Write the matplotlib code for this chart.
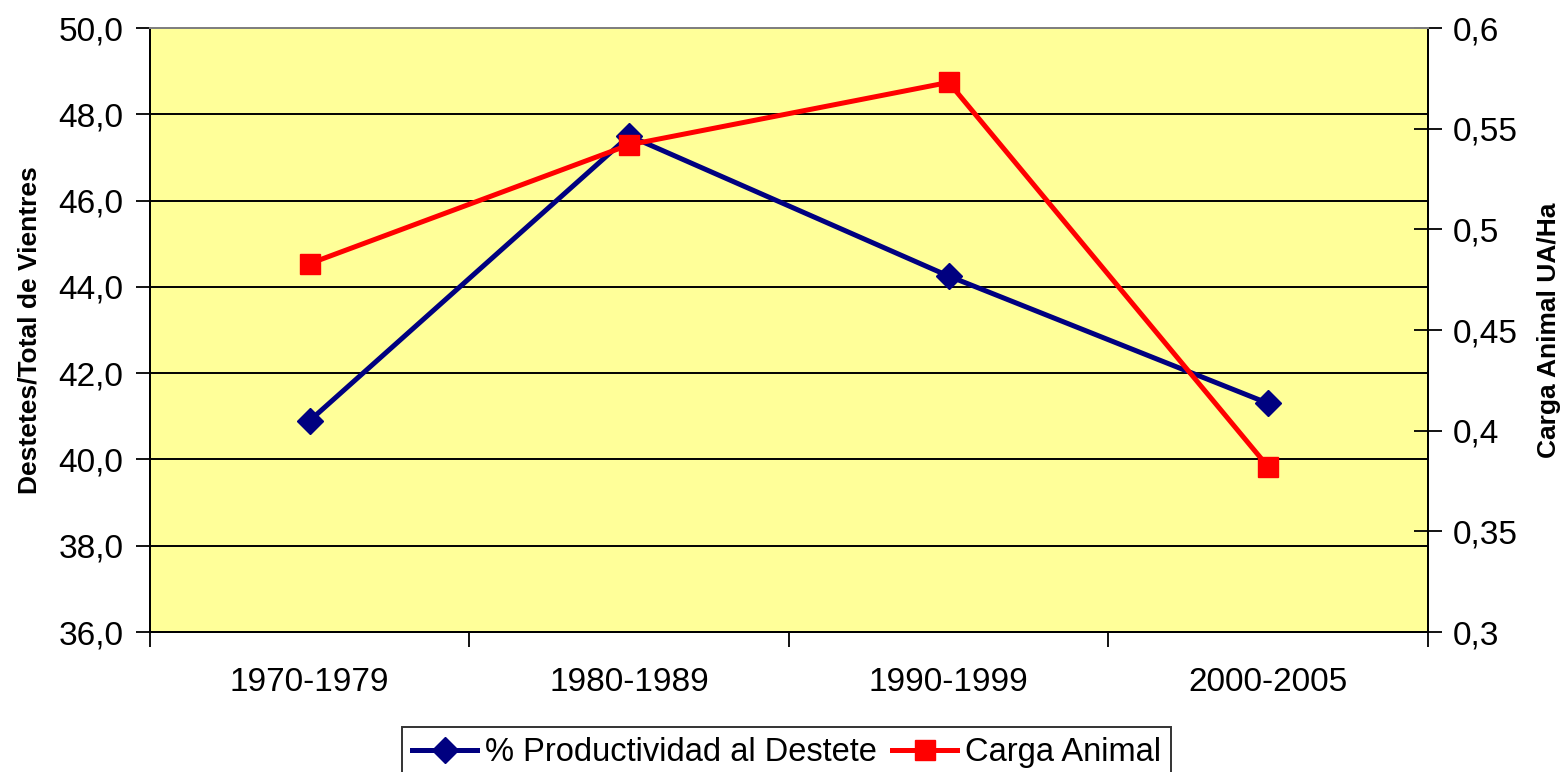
import matplotlib

matplotlib.use("Agg")
import matplotlib.pyplot as plt
from matplotlib.ticker import FixedLocator, FuncFormatter

plt.rcParams["font.family"] = ["Liberation Sans", "DejaVu Sans"]

periods = ["1970-1979", "1980-1989", "1990-1999", "2000-2005"]
productividad = [40.9, 47.5, 44.25, 41.3]
carga = [0.483, 0.542, 0.573, 0.382]

left_ticks = [36, 38, 40, 42, 44, 46, 48, 50]
right_ticks = [0.3, 0.35, 0.4, 0.45, 0.5, 0.55, 0.6]

BLUE = "#000080"
RED = "#FF0000"
YELLOW = "#FFFF99"

fig = plt.figure(figsize=(15.64, 7.72), dpi=100)
ax = fig.add_axes([0.0959, 0.1813, 0.8171, 0.7824])
ax.set_facecolor(YELLOW)
ax2 = ax.twinx()

x = list(range(len(periods)))
l1, = ax.plot(x, productividad, color=BLUE, lw=3.6, marker="D", ms=13,
              mfc=BLUE, mec=BLUE, zorder=3, label="% Productividad al Destete")
l2, = ax2.plot(x, carga, color=RED, lw=3.6, marker="s", ms=15,
               mfc=RED, mec=RED, zorder=3, label="Carga Animal")

ax.set_xlim(-0.5, len(periods) - 0.5)
ax.set_ylim(36, 50)
ax2.set_ylim(0.3, 0.6)

ax.yaxis.set_major_locator(FixedLocator(left_ticks))
ax.yaxis.set_major_formatter(FuncFormatter(lambda v, p: f"{v:.1f}".replace(".", ",")))
ax2.yaxis.set_major_locator(FixedLocator(right_ticks))
ax2.yaxis.set_major_formatter(
    FuncFormatter(lambda v, p: f"{v:.2f}".rstrip("0").replace(".", ",")))

ax.grid(axis="y", color="black", lw=1.4)
ax.set_axisbelow(True)

# category labels centred, tick marks between categories
ax.set_xticks(x)
ax.set_xticklabels(periods)
ax.set_xticks([i - 0.5 for i in range(len(periods) + 1)], minor=True)
ax.tick_params(axis="x", which="major", length=0, pad=25, labelsize=24)
ax.tick_params(axis="x", which="minor", length=11, width=1.3, direction="out")
ax.tick_params(axis="y", length=10, width=1.3, direction="out", labelsize=24, pad=9)
ax2.tick_params(axis="y", length=20, width=1.3, direction="inout", labelsize=24, pad=8)

for a in (ax, ax2):
    for s in ("left", "right", "bottom"):
        a.spines[s].set_color("black")
        a.spines[s].set_linewidth(1.4)
    a.spines["top"].set_color("#808080")
    a.spines["top"].set_linewidth(1.4)

ax.set_ylabel("Destetes/Total de Vientres", fontsize=19, fontweight="bold", labelpad=12)
ax2.set_ylabel("Carga Animal UA/Ha", fontsize=19, fontweight="bold", labelpad=14)

leg = fig.legend([l1, l2], [l1.get_label(), l2.get_label()], loc="upper center",
                 bbox_to_anchor=(0.503, 0.058), ncol=2, fontsize=23.5, frameon=True,
                 fancybox=False, edgecolor="black", borderpad=0.3, borderaxespad=0,
                 handlelength=2.0, handletextpad=0.25, columnspacing=0.45)
leg.get_frame().set_linewidth(1.4)

fig.savefig("out.png", dpi=100)
